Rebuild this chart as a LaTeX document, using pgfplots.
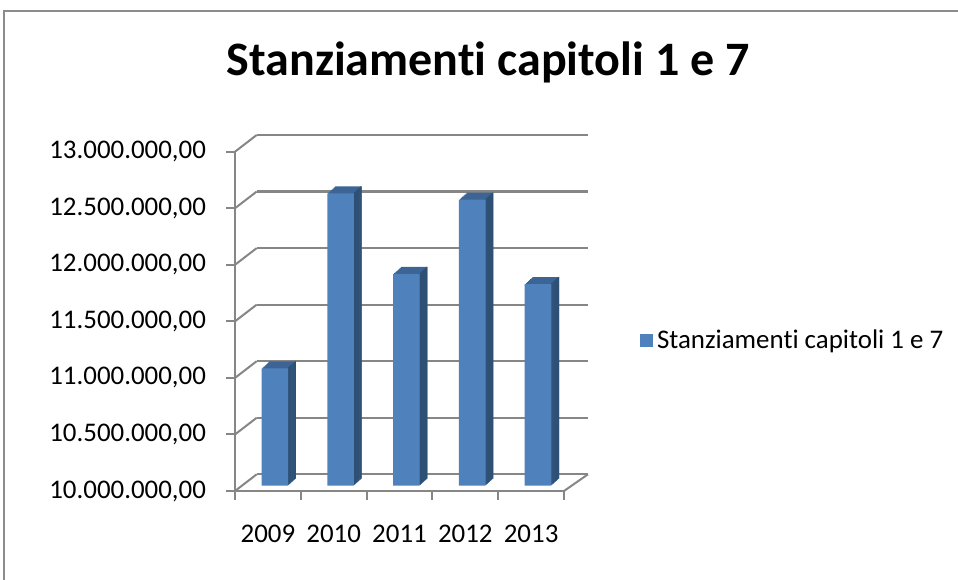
\documentclass[border=0pt]{standalone}
\usepackage{fontspec}
\setmainfont{Carlito}[Ligatures=NoCommon]
\usepackage{pgfplots}
\usepackage{pgfplotstable}
\pgfplotsset{compat=1.18}
\definecolor{frontc}{HTML}{4F81BD}
\definecolor{topc}{HTML}{3C6494}
\definecolor{sidec}{HTML}{2E5075}
\definecolor{gridc}{HTML}{868686}
\definecolor{framec}{HTML}{8C8C8C}
\pgfplotstableread{
x v
0.5 11038000
1.5 12585000
2.5 11872000
3.5 12530000
4.5 11783000
}\bardata
\begin{document}
\begin{tikzpicture}[x=0.5bp,y=0.5bp]
\path[use as bounding box] (0,0) rectangle (958,-580);
\draw[framec, line width=1.25bp] (4,-580) -- (4,-11) -- (958,-11);
\node[font=\fontsize{24.1}{28}\selectfont\bfseries] at (488,-62) {Stanziamenti capitoli 1 e 7};
% back wall grid
\begin{axis}[at={(128.35bp,-237.15bp)}, anchor=south west, scale only axis,
  width=165.65bp, height=169.65bp, xmin=0, xmax=1, ymin=10000000, ymax=13000000,
  enlargelimits=false, ytick={10000000,10500000,11000000,11500000,12000000,12500000,13000000},
  yticklabels={}, xtick=\empty, ymajorgrids, grid style={gridc, line width=1.1bp},
  axis line style={draw=none}, major tick length=0pt, scaled y ticks=false]
\end{axis}
% depth diagonals
\foreach \k in {0,...,6} {
  \draw[gridc, line width=1bp] (235,{-(491-\k*56.55)}) -- (256.7,{-(474.3-\k*56.55)});
}
\draw[gridc, line width=1bp] (564,-491) -- (588,-474.3);
% bars
\begin{axis}[at={(120.95bp,-242.85bp)}, anchor=south west, scale only axis,
  width=164.5bp, height=169.65bp, xmin=0, xmax=5, ymin=0, ymax=3000000,
  enlargelimits=false, hide axis, clip=false, ybar, bar width=13.3bp,
  legend style={at={(1.208,0.4274)}, anchor=west, draw=none, fill=none, inner sep=0pt,
    font=\fontsize{13.5}{15}\selectfont, legend cell align=left},
  legend image code/.code={\fill[frontc] (0bp,-3.33bp) rectangle (6.65bp,3.33bp);}]
\pgfplotsinvokeforeach{7,6,...,1}{
  \addplot[forget plot, fill=topc, draw=none, bar shift={#1*0.55bp}, yshift={#1*0.5bp}]
    table[x=x, y expr=\thisrow{v}-10000000]{\bardata};
}
\pgfplotsinvokeforeach{1,...,7}{
  \addplot[forget plot, fill=sidec, draw=none, bar width=0.62bp, bar shift={6.65bp+(#1-0.5)*0.55bp}, yshift={#1*0.5bp}]
    table[x=x, y expr=\thisrow{v}-10000000]{\bardata};
}
\addplot[fill=frontc, draw=none, bar shift=0pt]
  table[x=x, y expr=\thisrow{v}-10000000]{\bardata};
\addlegendentry{Stanziamenti capitoli 1 e 7}
\end{axis}
% front axes
\begin{axis}[at={(117.5bp,-245.5bp)}, anchor=south west, scale only axis,
  width=164.5bp, height=169.65bp, xmin=0, xmax=5, ymin=10000000, ymax=13000000,
  enlargelimits=false, axis x line*=bottom, axis y line*=left,
  axis line style={gridc, line width=1bp, -},
  ytick={10000000,10500000,11000000,11500000,12000000,12500000,13000000},
  yticklabels={{10.000.000,00},{10.500.000,00},{11.000.000,00},{11.500.000,00},{12.000.000,00},{12.500.000,00},{13.000.000,00}},
  xtick={0,1,2,3,4,5}, xticklabels={},
  extra x ticks={0.5,1.5,2.5,3.5,4.5},
  extra x tick labels={2009,2010,2011,2012,2013},
  extra x tick style={tick style={draw=none}},
  tick align=outside, major tick length=4.5bp,
  tick style={gridc, line width=1bp},
  ticklabel style={font=\fontsize{13.5}{15}\selectfont},
  yticklabel style={xshift=-6.5bp},
  xticklabel style={yshift=-9bp},
  scaled y ticks=false]
\end{axis}
\end{tikzpicture}
\end{document}
